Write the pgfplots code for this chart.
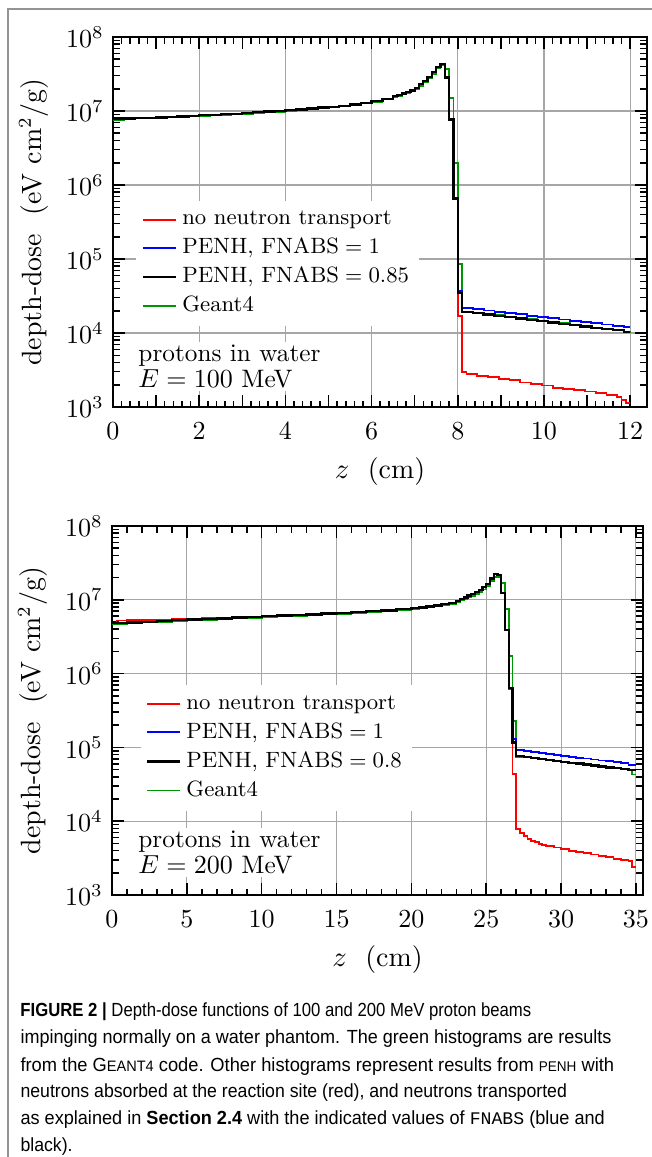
\documentclass[border=0pt]{standalone}
\usepackage{fontspec}
\newfontfamily\capfont{Liberation Sans}[FakeStretch=0.93]
\newfontfamily\capmono{Liberation Mono}
\usepackage{pgfplots}
\pgfplotsset{compat=1.18}
\definecolor{ggreen}{RGB}{0,150,0}
\begin{document}
\begin{tikzpicture}
\useasboundingbox (0,0) rectangle (250pt,-444.31pt);
\draw[gray!85, line width=0.45pt] (3.07pt,-446pt) -- (3.07pt,-3.46pt) -- (252pt,-3.46pt);

% ---------------- 100 MeV ----------------
\begin{axis}[
  at={(43.39pt,-14.21pt)}, anchor=north west,
  scale only axis, width=205.07pt, height=142.09pt,
  ymode=log, ymin=1e3, ymax=1e8,
  xmin=0, xmax=12.39,
  xtick={0,2,4,6,8,10,12},
  minor x tick num=9,
  extra x ticks={1,3,5,7,9,11}, extra x tick labels={},
  extra x tick style={grid=none},
  minor ytick={2e3,3e3,4e3,5e3,6e3,7e3,8e3,9e3,2e4,3e4,4e4,5e4,6e4,7e4,8e4,9e4,2e5,3e5,4e5,5e5,6e5,7e5,8e5,9e5,2e6,3e6,4e6,5e6,6e6,7e6,8e6,9e6,2e7,3e7,4e7,5e7,6e7,7e7,8e7,9e7},
  grid=major, major grid style={gray!70, line width=0.4pt},
  axis line style={line width=0.75pt},
  every tick/.style={black, line width=0.6pt},
  major tick length=4.6pt, minor tick length=2.5pt,
  tick label style={font=\fontsize{10}{12}\selectfont},
  xticklabel style={yshift=-2.4pt},
  label style={font=\fontsize{10.7}{12}\selectfont},
  xlabel={$z$\ \ (cm)},
  ylabel={depth-dose\ \ (eV cm$^2$/g)},
  legend cell align=left,
  legend image code/.code={\draw[#1] (0pt,0pt) -- (12.7pt,0pt);},
  legend style={draw=none, fill=white, at={(0.043,0.559)}, anchor=north west,
      font=\fontsize{8.5}{10}\selectfont, inner xsep=2pt, inner ysep=2pt,
      row sep=-0.4pt},
]
\addlegendimage{red, line width=0.7pt}
\addlegendentry{no neutron transport}
\addlegendimage{blue, line width=0.7pt}
\addlegendentry{PENH, FNABS${}={}$1}
\addlegendimage{black, line width=0.9pt}
\addlegendentry{PENH, FNABS${}={}$0.85}
\addlegendimage{ggreen, line width=0.7pt}
\addlegendentry{Geant4}
\addplot[ggreen, line width=0.7pt, const plot mark left, forget plot] coordinates {
(0,7.5e6) (0.25,7.8e6) (0.5,7.9e6) (0.75,7.95e6) (1,8.05e6) (1.25,8.15e6) (1.5,8.3e6) (1.75,8.45e6)
(2,8.6e6) (2.25,8.75e6) (2.5,8.9e6) (2.75,9.05e6) (3,9.2e6) (3.25,9.4e6) (3.5,9.6e6) (3.75,9.8e6)
(4,1.01e7) (4.25,1.03e7) (4.5,1.06e7) (4.75,1.09e7) (5,1.12e7) (5.25,1.16e7) (5.5,1.2e7) (5.75,1.26e7)
(6,1.33e7) (6.25,1.43e7) (6.5,1.55e7) (6.6,1.61e7) (6.7,1.68e7) (6.8,1.76e7) (6.9,1.85e7) (7.0,1.98e7)
(7.1,2.2e7) (7.2,2.45e7) (7.3,2.75e7) (7.4,3.2e7) (7.5,3.75e7) (7.6,4.2e7) (7.7,3.7e7) (7.8,1.48e7)
(7.9,2.0e6) (8.0,8.5e4) (8.1,1.95e4) (8.35,1.88e4) (8.6,1.8e4) (8.85,1.73e4) (9.1,1.66e4) (9.35,1.6e4)
(9.6,1.54e4) (9.85,1.48e4) (10.1,1.42e4) (10.35,1.36e4) (10.6,1.3e4) (10.85,1.25e4) (11.1,1.19e4)
(11.35,1.14e4) (11.6,1.09e4) (11.85,1.02e4) (12,1.0e4)};
\addplot[red, line width=0.7pt, const plot mark left, forget plot] coordinates {
(0,8.1e6) (0.25,8.0e6) (0.5,8.05e6) (0.75,8.1e6) (1,8.2e6) (1.25,8.3e6) (1.5,8.45e6) (1.75,8.6e6)
(2,8.75e6) (2.25,8.9e6) (2.5,9.05e6) (2.75,9.2e6) (3,9.4e6) (3.25,9.6e6) (3.5,9.8e6) (3.75,1.0e7)
(4,1.03e7) (4.25,1.05e7) (4.5,1.08e7) (4.75,1.11e7) (5,1.14e7) (5.25,1.18e7) (5.5,1.23e7) (5.75,1.29e7)
(6,1.36e7) (6.25,1.46e7) (6.5,1.58e7) (6.6,1.65e7) (6.7,1.72e7) (6.8,1.8e7) (6.9,1.9e7) (7.0,2.05e7)
(7.1,2.3e7) (7.2,2.55e7) (7.3,2.9e7) (7.4,3.4e7) (7.5,3.9e7) (7.6,4.3e7) (7.7,2.85e7) (7.8,7.7e6)
(7.9,6.4e5) (8.0,1.7e4) (8.1,3.0e3) (8.2,2.8e3) (8.45,2.65e3) (8.7,2.52e3) (8.95,2.42e3) (9.2,2.3e3)
(9.45,2.15e3) (9.7,2.05e3) (9.95,1.95e3) (10.2,1.83e3) (10.45,1.77e3) (10.7,1.7e3) (10.95,1.62e3)
(11.2,1.55e3) (11.45,1.45e3) (11.7,1.35e3) (11.8,1.25e3) (11.9,1.12e3) (12,1.12e3)};
\addplot[blue, line width=0.7pt, const plot mark left, forget plot] coordinates {
(0,7.9e6) (0.25,7.95e6) (0.5,8.0e6) (0.75,8.1e6) (1,8.2e6) (1.25,8.3e6) (1.5,8.45e6) (1.75,8.6e6)
(2,8.75e6) (2.25,8.9e6) (2.5,9.05e6) (2.75,9.2e6) (3,9.4e6) (3.25,9.6e6) (3.5,9.8e6) (3.75,1.0e7)
(4,1.03e7) (4.25,1.05e7) (4.5,1.08e7) (4.75,1.11e7) (5,1.14e7) (5.25,1.18e7) (5.5,1.23e7) (5.75,1.29e7)
(6,1.36e7) (6.25,1.46e7) (6.5,1.58e7) (6.6,1.65e7) (6.7,1.72e7) (6.8,1.8e7) (6.9,1.9e7) (7.0,2.05e7)
(7.1,2.3e7) (7.2,2.55e7) (7.3,2.9e7) (7.4,3.4e7) (7.5,3.9e7) (7.6,4.3e7) (7.7,2.85e7) (7.8,7.7e6)
(7.9,6.6e5) (8.0,3.7e4) (8.1,2.18e4) (8.35,2.09e4) (8.6,2.01e4) (8.85,1.93e4) (9.1,1.86e4) (9.35,1.79e4)
(9.6,1.71e4) (9.85,1.65e4) (10.1,1.58e4) (10.35,1.52e4) (10.6,1.46e4) (10.85,1.41e4) (11.1,1.35e4)
(11.35,1.3e4) (11.6,1.25e4) (11.85,1.2e4) (12,1.2e4)};
\addplot[black, line width=0.9pt, const plot mark left, forget plot] coordinates {
(0,7.9e6) (0.25,7.95e6) (0.5,8.0e6) (0.75,8.1e6) (1,8.2e6) (1.25,8.3e6) (1.5,8.45e6) (1.75,8.6e6)
(2,8.75e6) (2.25,8.9e6) (2.5,9.05e6) (2.75,9.2e6) (3,9.4e6) (3.25,9.6e6) (3.5,9.8e6) (3.75,1.0e7)
(4,1.03e7) (4.25,1.05e7) (4.5,1.08e7) (4.75,1.11e7) (5,1.14e7) (5.25,1.18e7) (5.5,1.23e7) (5.75,1.29e7)
(6,1.36e7) (6.25,1.46e7) (6.5,1.58e7) (6.6,1.65e7) (6.7,1.72e7) (6.8,1.8e7) (6.9,1.9e7) (7.0,2.05e7)
(7.1,2.3e7) (7.2,2.55e7) (7.3,2.9e7) (7.4,3.4e7) (7.5,3.9e7) (7.6,4.3e7) (7.7,2.85e7) (7.8,7.7e6)
(7.9,6.6e5) (8.0,3.5e4) (8.1,1.92e4) (8.35,1.85e4) (8.6,1.77e4) (8.85,1.7e4) (9.1,1.63e4) (9.35,1.57e4)
(9.6,1.51e4) (9.85,1.45e4) (10.1,1.39e4) (10.35,1.33e4) (10.6,1.28e4) (10.85,1.23e4) (11.1,1.18e4)
(11.35,1.13e4) (11.6,1.09e4) (11.85,1.04e4) (12,1.04e4)};
\node[anchor=north west, fill=white, align=left, inner xsep=2pt, inner ysep=1pt,
  font=\fontsize{9.7}{10}\selectfont] at (rel axis cs:0.037,0.176)
  {protons in water\\$E=100$ MeV};
\end{axis}

% ---------------- 200 MeV ----------------
\begin{axis}[
  at={(43.01pt,-202.0pt)}, anchor=north west,
  scale only axis, width=203.91pt, height=141.70pt,
  ymode=log, ymin=1e3, ymax=1e8,
  xmin=0, xmax=35.47,
  xtick={0,5,10,15,20,25,30,35},
  minor x tick num=4,
  minor ytick={2e3,3e3,4e3,5e3,6e3,7e3,8e3,9e3,2e4,3e4,4e4,5e4,6e4,7e4,8e4,9e4,2e5,3e5,4e5,5e5,6e5,7e5,8e5,9e5,2e6,3e6,4e6,5e6,6e6,7e6,8e6,9e6,2e7,3e7,4e7,5e7,6e7,7e7,8e7,9e7},
  grid=major, major grid style={gray!70, line width=0.4pt},
  axis line style={line width=0.75pt},
  every tick/.style={black, line width=0.6pt},
  major tick length=4.6pt, minor tick length=2.5pt,
  tick label style={font=\fontsize{10}{12}\selectfont},
  xticklabel style={yshift=-2.4pt},
  label style={font=\fontsize{10.7}{12}\selectfont},
  xlabel={$z$\ \ (cm)},
  ylabel={depth-dose\ \ (eV cm$^2$/g)},
  legend cell align=left,
  legend image code/.code={\draw[#1] (0pt,0pt) -- (12.7pt,0pt);},
  legend style={draw=none, fill=white, at={(0.053,0.57)}, anchor=north west,
      font=\fontsize{8.5}{10}\selectfont, inner xsep=2pt, inner ysep=2pt,
      row sep=-0.4pt},
]
\addlegendimage{red, line width=0.7pt}
\addlegendentry{no neutron transport}
\addlegendimage{blue, line width=0.7pt}
\addlegendentry{PENH, FNABS${}={}$1}
\addlegendimage{black, line width=0.9pt}
\addlegendentry{PENH, FNABS${}={}$0.8}
\addlegendimage{ggreen, line width=0.7pt}
\addlegendentry{Geant4}
\addplot[ggreen, line width=0.7pt, const plot mark left, forget plot] coordinates {
(0,4.7e6) (1,4.82e6) (2,4.92e6) (3,5.02e6) (4,5.15e6) (5,5.25e6) (6,5.35e6) (7,5.45e6) (8,5.6e6)
(9,5.7e6) (10,5.85e6) (11,5.95e6) (12,6.05e6) (13,6.2e6) (14,6.35e6) (15,6.5e6) (16,6.65e6) (17,6.85e6)
(18,7.05e6) (19,7.3e6) (20,7.55e6) (20.5,7.75e6) (21,8.0e6) (21.5,8.2e6) (22,8.5e6) (22.5,8.85e6)
(23,9.35e6) (23.25,9.9e6) (23.5,1.03e7) (23.75,1.08e7) (24,1.13e7) (24.25,1.2e7) (24.5,1.27e7)
(24.75,1.38e7) (25,1.52e7) (25.25,1.8e7) (25.5,2.05e7) (25.75,2.05e7) (26,1.68e7) (26.25,7.6e6)
(26.5,1.75e6) (26.75,2.3e5) (27,7.3e4) (27.5,7.3e4) (28,7.1e4) (28.5,6.9e4) (29,6.7e4) (29.5,6.5e4)
(30,6.33e4) (30.5,6.15e4) (31,5.98e4) (31.5,5.8e4) (32,5.64e4) (32.5,5.48e4) (33,5.32e4) (33.5,5.17e4)
(34,5.02e4) (34.5,4.88e4) (34.75,4.3e4) (35,4.3e4)};
\addplot[red, line width=0.7pt, const plot mark left, forget plot] coordinates {
(0,4.9e6) (0.3,5.25e6) (1,5.3e6) (2,5.35e6) (3,5.4e6) (4,5.5e6) (5,5.55e6) (6,5.62e6) (7,5.7e6)
(8,5.8e6) (9,5.9e6) (10,6.05e6) (11,6.12e6) (12,6.2e6) (13,6.35e6) (14,6.5e6) (15,6.65e6) (16,6.8e6)
(17,7.0e6) (18,7.2e6) (19,7.45e6) (20,7.7e6) (20.5,7.9e6) (21,8.15e6) (21.5,8.4e6) (22,8.7e6)
(22.5,9.1e6) (23,9.7e6) (23.25,1.03e7) (23.5,1.08e7) (23.75,1.14e7) (24,1.2e7) (24.25,1.28e7)
(24.5,1.36e7) (24.75,1.48e7) (25,1.65e7) (25.25,1.95e7) (25.5,2.24e7) (25.75,2.18e7) (26,1.23e7)
(26.25,3.9e6) (26.5,6.2e5) (26.75,4.4e4) (27,7.9e3) (27.25,6.9e3) (27.5,6.3e3) (27.75,5.8e3)
(28,5.45e3) (28.25,5.2e3) (28.5,4.95e3) (28.75,4.75e3) (29,4.6e3) (29.5,4.4e3) (30,4.15e3)
(30.5,3.98e3) (31,3.85e3) (31.5,3.7e3) (32,3.55e3) (32.5,3.4e3) (33,3.25e3) (33.5,3.1e3)
(34,2.98e3) (34.5,2.88e3) (34.75,2.37e3) (35,2.37e3)};
\addplot[blue, line width=0.7pt, const plot mark left, forget plot] coordinates {
(0,4.85e6) (1,4.95e6) (2,5.05e6) (3,5.15e6) (4,5.3e6) (5,5.4e6) (6,5.5e6) (7,5.6e6) (8,5.75e6)
(9,5.85e6) (10,6.0e6) (11,6.1e6) (12,6.2e6) (13,6.35e6) (14,6.5e6) (15,6.65e6) (16,6.8e6) (17,7.0e6)
(18,7.2e6) (19,7.45e6) (20,7.7e6) (20.5,7.9e6) (21,8.15e6) (21.5,8.4e6) (22,8.7e6) (22.5,9.1e6)
(23,9.7e6) (23.25,1.03e7) (23.5,1.08e7) (23.75,1.14e7) (24,1.2e7) (24.25,1.28e7) (24.5,1.36e7)
(24.75,1.48e7) (25,1.65e7) (25.25,1.95e7) (25.5,2.24e7) (25.75,2.18e7) (26,1.23e7) (26.25,3.9e6)
(26.5,6.4e5) (26.75,1.3e5) (27,9.18e4) (27.5,8.92e4) (28,8.66e4) (28.5,8.41e4) (29,8.17e4)
(29.5,7.94e4) (30,7.71e4) (30.5,7.49e4) (31,7.27e4) (31.5,7.06e4) (32,6.86e4) (32.5,6.66e4)
(33,6.47e4) (33.5,6.28e4) (34,6.1e4) (34.5,5.8e4) (35,5.8e4)};
\addplot[black, line width=0.9pt, const plot mark left, forget plot] coordinates {
(0,4.85e6) (1,4.95e6) (2,5.05e6) (3,5.15e6) (4,5.3e6) (5,5.4e6) (6,5.5e6) (7,5.6e6) (8,5.75e6)
(9,5.85e6) (10,6.0e6) (11,6.1e6) (12,6.2e6) (13,6.35e6) (14,6.5e6) (15,6.65e6) (16,6.8e6) (17,7.0e6)
(18,7.2e6) (19,7.45e6) (20,7.7e6) (20.5,7.9e6) (21,8.15e6) (21.5,8.4e6) (22,8.7e6) (22.5,9.1e6)
(23,9.7e6) (23.25,1.03e7) (23.5,1.08e7) (23.75,1.14e7) (24,1.2e7) (24.25,1.28e7) (24.5,1.36e7)
(24.75,1.48e7) (25,1.65e7) (25.25,1.95e7) (25.5,2.24e7) (25.75,2.18e7) (26,1.23e7) (26.25,3.9e6)
(26.5,6.4e5) (26.75,1.17e5) (27,7.6e4) (27.5,7.37e4) (28,7.16e4) (28.5,6.96e4) (29,6.76e4)
(29.5,6.57e4) (30,6.38e4) (30.5,6.2e4) (31,6.03e4) (31.5,5.85e4) (32,5.69e4) (32.5,5.53e4)
(33,5.37e4) (33.5,5.22e4) (34,5.07e4) (34.5,4.93e4) (35,4.93e4)};
\node[anchor=north west, fill=white, align=left, inner xsep=2pt, inner ysep=1pt,
  font=\fontsize{9.7}{10}\selectfont] at (rel axis cs:0.039,0.182)
  {protons in water\\$E=200$ MeV};
\end{axis}

% ---------------- caption ----------------
\node[anchor=base west, inner sep=0pt, xscale=0.945, transform shape, font=\capfont\fontsize{7.3}{8}\selectfont] at (7.68pt,-390.5pt) {\textbf{FIGURE 2 |} Depth-dose functions of 100 and 200 MeV proton beams};
\node[anchor=base west, inner sep=0pt, xscale=1.02, transform shape, font=\capfont\fontsize{7.3}{8}\selectfont] at (7.68pt,-400.9pt) {impinging normally on a water phantom. The green histograms are results};
\node[anchor=base west, inner sep=0pt, xscale=1.035, transform shape, font=\capfont\fontsize{7.3}{8}\selectfont] at (7.68pt,-411.3pt) {from the G{\fontsize{5.8}{6}\selectfont EANT4} code. Other histograms represent results from {\fontsize{5.4}{6}\selectfont PENH} with};
\node[anchor=base west, inner sep=0pt, font=\capfont\fontsize{7.3}{8}\selectfont] at (7.68pt,-421.6pt) {neutrons absorbed at the reaction site (red), and neutrons transported};
\node[anchor=base west, inner sep=0pt, xscale=1.025, transform shape, font=\capfont\fontsize{7.3}{8}\selectfont] at (7.68pt,-432.0pt) {as explained in \textbf{Section 2.4} with the indicated values of {\capmono\fontsize{6.8}{8}\selectfont FNABS} (blue and};
\node[anchor=base west, inner sep=0pt, font=\capfont\fontsize{7.3}{8}\selectfont] at (7.68pt,-442.2pt) {black).};
\end{tikzpicture}
\end{document}
